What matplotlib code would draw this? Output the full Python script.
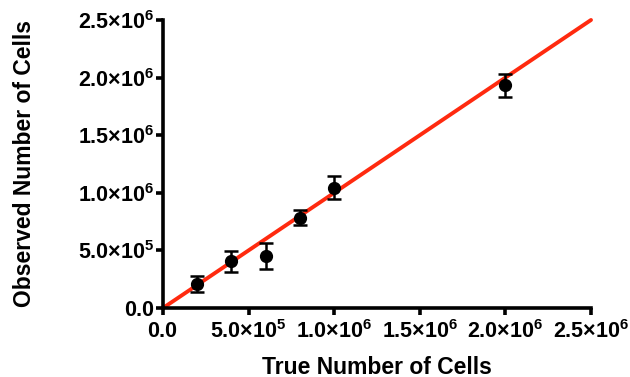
import matplotlib
matplotlib.use("Agg")
import matplotlib.pyplot as plt
import numpy as np

plt.rcParams['font.family'] = ['Liberation Sans', 'DejaVu Sans']
plt.rcParams['mathtext.fontset'] = 'custom'
plt.rcParams['mathtext.rm'] = 'Liberation Sans'
plt.rcParams['mathtext.bf'] = 'Liberation Sans:bold'

# --- data ---
true_cells = [2e5, 4e5, 6e5, 8e5, 1e6, 2e6]
observed = [2.1e5, 4.05e5, 4.5e5, 7.85e5, 1.045e6, 1.935e6]
obs_err = [7e4, 9e4, 1.1e5, 6.5e4, 1.0e5, 1.0e5]

ticks = [0, 5e5, 1e6, 1.5e6, 2e6, 2.5e6]
tick_labels = [r"$\mathbf{0.0}$", r"$\mathbf{5.0{\times}10^{5}}$", r"$\mathbf{1.0{\times}10^{6}}$",
               r"$\mathbf{1.5{\times}10^{6}}$", r"$\mathbf{2.0{\times}10^{6}}$", r"$\mathbf{2.5{\times}10^{6}}$"]
fit_x = [0, 2.5e6]
fit_y = [0, 2.5e6]

fig = plt.figure(figsize=(6.3, 3.77), dpi=100)
ax = fig.add_axes([0.2587, 0.183, 0.6794, 0.764])

ax.plot(fit_x, fit_y, color='#ff2a0f', lw=2.8, zorder=2, clip_on=False, solid_capstyle='round')
ax.errorbar(true_cells, observed, yerr=obs_err, fmt='o', color='black', ms=8.5,
            elinewidth=1.8, capsize=5, capthick=1.8, zorder=3, clip_on=False)

ax.set_xlim(0, 2.5e6)
ax.set_ylim(0, 2.5e6)
ax.set_xticks(ticks)
ax.set_xticklabels(tick_labels)
ax.set_yticks(ticks)
ax.set_yticklabels(tick_labels)

for s in ['top', 'right']:
    ax.spines[s].set_visible(False)
for s in ['left', 'bottom']:
    ax.spines[s].set_linewidth(2.6)
ax.tick_params(direction='out', length=5, width=2.6, labelsize=15.5)
ax.tick_params(axis='x', pad=4)
ax.tick_params(axis='y', pad=1)

ax.set_xlabel("True Number of Cells", fontsize=16.5, fontweight='bold')
ax.set_ylabel("Observed Number of Cells", fontsize=16.5, fontweight='bold')
# label positions in axes coords (fixed, as in the source layout)
ax.xaxis.set_label_coords(0.5, -0.165)
ax.yaxis.set_label_coords(-0.296, 0.5)

fig.savefig("out.png", dpi=100)
